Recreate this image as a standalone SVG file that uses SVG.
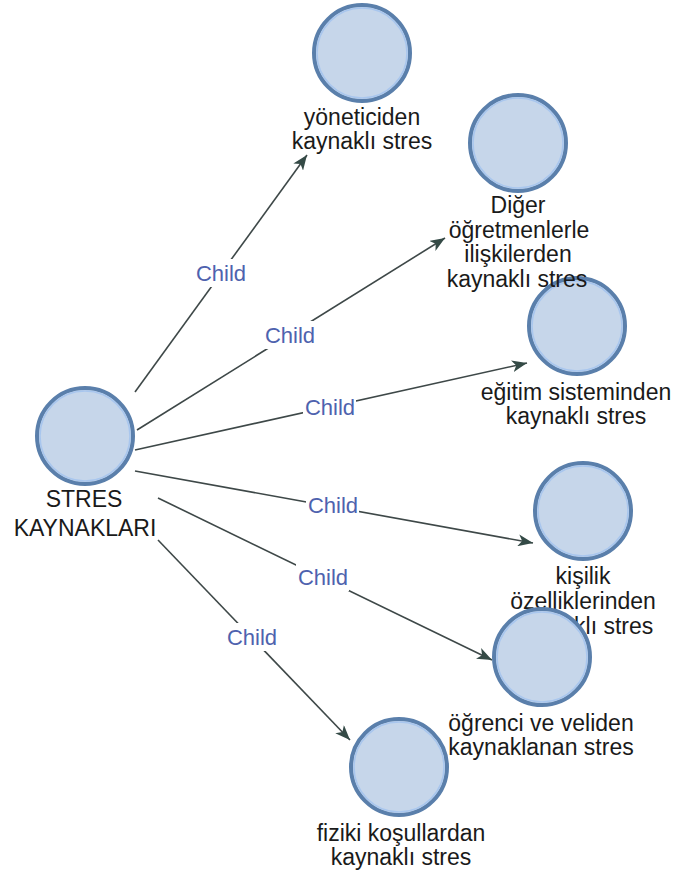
<svg xmlns="http://www.w3.org/2000/svg" width="673" height="876" viewBox="0 0 673 876">
<style>
.bg{fill:#ffffff}
.ring{fill:#c6d6ea;stroke:#5a7fab;stroke-width:4}
.inner{fill:none;stroke:#a8c6ee;stroke-width:1.5}
.lbl{font-family:"Liberation Sans",Arial,sans-serif;font-size:23px;fill:#1a1a1a;text-anchor:middle}
.edge{stroke:#3e4848;stroke-width:1.6;fill:none;marker-end:url(#arr)}
.cbox{fill:#ffffff}
.ctxt{font-family:"Liberation Sans",Arial,sans-serif;font-size:22px;fill:#4e62ae;text-anchor:middle}
</style>
<defs>
<marker id="arr" markerWidth="16" markerHeight="12" refX="15" refY="6" orient="auto" markerUnits="userSpaceOnUse">
<path d="M0,0 L15,6 L0,12 L4,6 z" fill="#344a46"/>
</marker>
</defs>
<rect class="bg" x="0" y="0" width="673" height="876"/>
<g id="connectors">
<g id="e1"><line class="edge" x1="135" y1="392" x2="307" y2="155"/><rect class="cbox" x="194" y="259" width="53" height="28"/><text class="ctxt" x="221" y="281">Child</text></g>
<g id="e2"><line class="edge" x1="137" y1="430" x2="445" y2="238"/><rect class="cbox" x="263" y="321" width="53" height="28"/><text class="ctxt" x="290" y="343">Child</text></g>
<g id="e3"><line class="edge" x1="135" y1="450" x2="527" y2="363"/><rect class="cbox" x="303" y="393" width="53" height="28"/><text class="ctxt" x="330" y="415">Child</text></g>
<g id="e4"><line class="edge" x1="135" y1="471" x2="533" y2="543"/><rect class="cbox" x="306" y="491" width="53" height="28"/><text class="ctxt" x="333" y="513">Child</text></g>
<g id="e5"><line class="edge" x1="158" y1="498" x2="492" y2="660"/><rect class="cbox" x="296" y="563" width="53" height="28"/><text class="ctxt" x="323" y="585">Child</text></g>
<g id="e6"><line class="edge" x1="158" y1="540" x2="350" y2="740"/><rect class="cbox" x="225" y="623" width="53" height="28"/><text class="ctxt" x="252" y="645">Child</text></g>
</g>
<g id="n-yonetici"><circle class="ring" cx="362" cy="53" r="48"/><circle class="inner" cx="362" cy="53" r="45"/><text class="lbl" x="362" y="125">yöneticiden</text><text class="lbl" x="362" y="149">kaynaklı stres</text></g>
<g id="n-egitim"><circle class="ring" cx="577" cy="326" r="48"/><circle class="inner" cx="577" cy="326" r="45"/><text class="lbl" x="576" y="400">eğitim sisteminden</text><text class="lbl" x="576" y="424">kaynaklı stres</text></g>
<g id="n-diger"><circle class="ring" cx="518" cy="143" r="48"/><circle class="inner" cx="518" cy="143" r="45"/><text class="lbl" x="518" y="213">Diğer</text><text class="lbl" x="519" y="238">öğretmenlerle</text><text class="lbl" x="518" y="262">ilişkilerden</text><text class="lbl" x="517" y="287">kaynaklı stres</text></g>
<g id="n-kisilik"><circle class="ring" cx="583" cy="511" r="48"/><circle class="inner" cx="583" cy="511" r="45"/><text class="lbl" x="583" y="584">kişilik</text><text class="lbl" x="583" y="609">özelliklerinden</text><text class="lbl" x="583" y="634">kaynaklı stres</text></g>
<g id="n-ogrenci"><circle class="ring" cx="542" cy="657" r="48"/><circle class="inner" cx="542" cy="657" r="45"/><text class="lbl" x="541" y="731">öğrenci ve veliden</text><text class="lbl" x="541" y="755">kaynaklanan stres</text></g>
<g id="n-fiziki"><circle class="ring" cx="399" cy="767" r="48"/><circle class="inner" cx="399" cy="767" r="45"/><text class="lbl" x="401" y="841">fiziki koşullardan</text><text class="lbl" x="401" y="865">kaynaklı stres</text></g>
<g id="n-stres"><circle class="ring" cx="85" cy="436" r="48"/><circle class="inner" cx="85" cy="436" r="45"/><text class="lbl" x="84" y="507">STRES</text><text class="lbl" x="85" y="536">KAYNAKLARI</text></g>
</svg>
